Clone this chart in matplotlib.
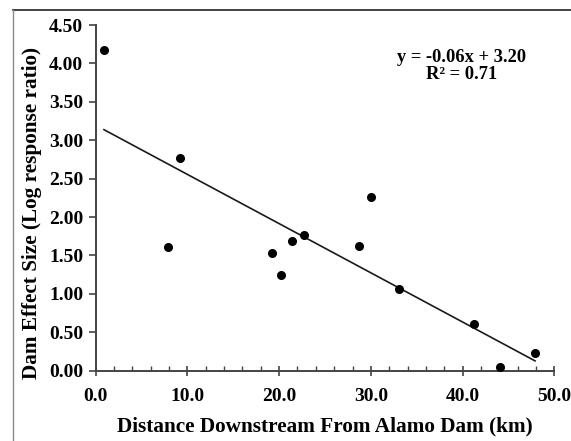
import matplotlib
matplotlib.use('Agg')
import matplotlib.pyplot as plt
import numpy as np
from matplotlib.ticker import MultipleLocator, FormatStrFormatter
from matplotlib.lines import Line2D

# distance downstream (km) and dam effect size (log response ratio)
distance_km = [0.9, 7.9, 9.2, 19.2, 20.2, 21.4, 22.7, 28.7, 30.0, 33.1, 41.2, 44.1, 47.9]
effect_size = [4.17, 1.61, 2.77, 1.53, 1.25, 1.69, 1.77, 1.62, 2.26, 1.07, 0.61, 0.05, 0.23]

equation_text = "y = -0.06x + 3.20\nR² = 0.71"

plt.rcParams['font.family'] = ['Liberation Serif', 'DejaVu Serif']
plt.rcParams['font.weight'] = 'bold'

fig = plt.figure(figsize=(5.71, 4.41), dpi=100)
ax = fig.add_axes([0.1676, 0.1594, 0.8032, 0.7839])

x = np.array(distance_km)
y = np.array(effect_size)
ax.plot(x, y, 'o', color='black', markersize=5.5, zorder=3)

#-- linear trend line over the data range
slope, intercept = np.polyfit(x, y, 1)
xs = np.array([x.min(), x.max()])
ax.plot(xs, slope * xs + intercept, color='#1a1a1a', linewidth=1.2)
#--

ax.text(0.798, 0.93, equation_text, transform=ax.transAxes, ha='center', va='top',
        fontsize=13.3, fontweight='bold', linespacing=1.0)

ax.set_xlim(0, 50)
ax.set_ylim(0, 4.5)
ax.xaxis.set_major_locator(MultipleLocator(10))
ax.xaxis.set_minor_locator(MultipleLocator(2))
ax.yaxis.set_major_locator(MultipleLocator(0.5))
ax.xaxis.set_major_formatter(FormatStrFormatter('%.1f'))
ax.yaxis.set_major_formatter(FormatStrFormatter('%.2f'))

for side in ['top', 'right']:
    ax.spines[side].set_visible(False)
for side in ['left', 'bottom']:
    ax.spines[side].set_color('#444444')
    ax.spines[side].set_linewidth(1.4)

ax.tick_params(axis='y', which='major', direction='out', length=5, width=1.2,
               color='#444444', labelsize=14, pad=4)
ax.tick_params(axis='x', which='major', direction='inout', length=7, width=1.2,
               color='#444444', labelsize=14, pad=9)
ax.tick_params(axis='x', which='minor', direction='in', length=3.5, width=1.0,
               color='#444444')

ax.set_xlabel('Distance Downstream From Alamo Dam (km)', fontsize=15.3, fontweight='bold', labelpad=8)
ax.set_ylabel('Dam Effect Size (Log response ratio)', fontsize=15.3, fontweight='bold')
ax.yaxis.set_label_coords(-0.117, 0.456)

# outer frame lines (top and left)
fig.add_artist(Line2D([13 / 571, 1], [1 - 10 / 441, 1 - 10 / 441], transform=fig.transFigure,
                      color='#222222', linewidth=1.2))
fig.add_artist(Line2D([13 / 571, 13 / 571], [0, 1 - 10 / 441], transform=fig.transFigure,
                      color='#888888', linewidth=1.0))

fig.savefig('out.png', dpi=100)
plt.close('all')
